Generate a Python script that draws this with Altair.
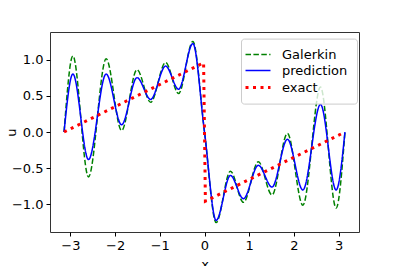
import altair as alt
import pandas as pd

series_names = ["Galerkin", "prediction", "exact"]

gal_x = [-3.1416, -2.944, -2.595, -2.2, -1.855, -1.51, -1.205, -0.87, -0.58, -0.26, 0.0,
         0.26, 0.58, 0.87, 1.205, 1.51, 1.855, 2.2, 2.595, 2.944, 3.1416]
gal_y = [0.0, 1.05, -0.62, 1.01, 0.02, 0.86, 0.41, 0.96, 0.53, 1.25, 0.0,
         -1.25, -0.54, -0.97, -0.41, -0.87, -0.02, -1.01, 0.62, -1.05, 0.0]

pred_x = [-3.1416, -2.944, -2.595, -2.2, -1.855, -1.51, -1.205, -0.87, -0.58, -0.26, 0.0,
          0.26, 0.58, 0.87, 1.205, 1.51, 1.855, 2.2, 2.595, 2.944, 3.1416]
pred_y = [0.0, 0.80, -0.38, 0.80, 0.10, 0.75, 0.45, 0.91, 0.59, 1.22, 0.0,
          -1.22, -0.60, -0.92, -0.46, -0.76, -0.10, -0.80, 0.38, -0.80, 0.0]

exact_x = [-3.1416, -0.02, 0.02, 3.1416]
exact_y = [0.0, 0.955, -0.955, 0.0]

x_ticks = [-3, -2, -1, 0, 1, 2, 3]
y_ticks = [-1.0, -0.5, 0.0, 0.5, 1.0]

rows = []
for name, xs, ys in zip(series_names, [gal_x, pred_x, exact_x], [gal_y, pred_y, exact_y]):
    for i, (a, b) in enumerate(zip(xs, ys)):
        rows.append({"series": name, "x": a, "u": b, "i": i})
df = pd.DataFrame(rows)

FONT = "DejaVu Sans"

x_enc = alt.X("x:Q", scale=alt.Scale(domain=[-3.456, 3.456], nice=False, zero=False),
              axis=alt.Axis(values=x_ticks, format="d", title="x", titlePadding=6))
y_enc = alt.Y("u:Q", scale=alt.Scale(domain=[-1.38, 1.38], nice=False, zero=False),
              axis=alt.Axis(values=y_ticks, format=".1f", title="u", titlePadding=-7))
color = alt.Color("series:N", scale=alt.Scale(domain=series_names, range=["green", "blue", "red"]),
                  legend=alt.Legend(title=None))
dash = alt.StrokeDash("series:N", scale=alt.Scale(domain=series_names, range=[[5.5, 2.4], [1, 0], [3, 4.5]]),
                      legend=alt.Legend(title=None))
sw = alt.StrokeWidth("series:N", scale=alt.Scale(type="ordinal", domain=series_names, range=[1.5, 1.5, 3]),
                     legend=alt.Legend(title=None))

base = alt.Chart(df).encode(x=x_enc, y=y_enc, color=color, strokeDash=dash, strokeWidth=sw,
                            order=alt.Order("i:Q"))

curves = base.transform_filter(alt.datum.series != "exact").mark_line(interpolate="monotone")
exact = base.transform_filter(alt.datum.series == "exact").mark_line(interpolate="linear")

chart = alt.layer(curves, exact).properties(
    width=309, height=200,
    autosize=alt.AutoSizeParams(type="none"),
    padding={"left": 42, "top": 24, "right": 30, "bottom": 34},
).configure_view(
    stroke="#333333", strokeWidth=1
).configure_axis(
    grid=False, domain=False, tickColor="black", tickSize=4, tickWidth=1,
    labelFont=FONT, labelFontSize=13, labelColor="black", labelPadding=3,
    titleFont=FONT, titleFontSize=13, titleColor="black", titleFontWeight="normal",
).configure_legend(
    orient="none", legendX=191, legendY=6.6, padding=9,
    fillColor="rgba(255,255,255,0.8)", strokeColor="#cccccc", cornerRadius=3,
    labelFont=FONT, labelFontSize=13, labelColor="black", labelOffset=16,
    symbolType="M-2,0H2", symbolSize=156, rowPadding=2,
)

chart.save("out.html", embed_options={"renderer": "svg", "actions": False})
